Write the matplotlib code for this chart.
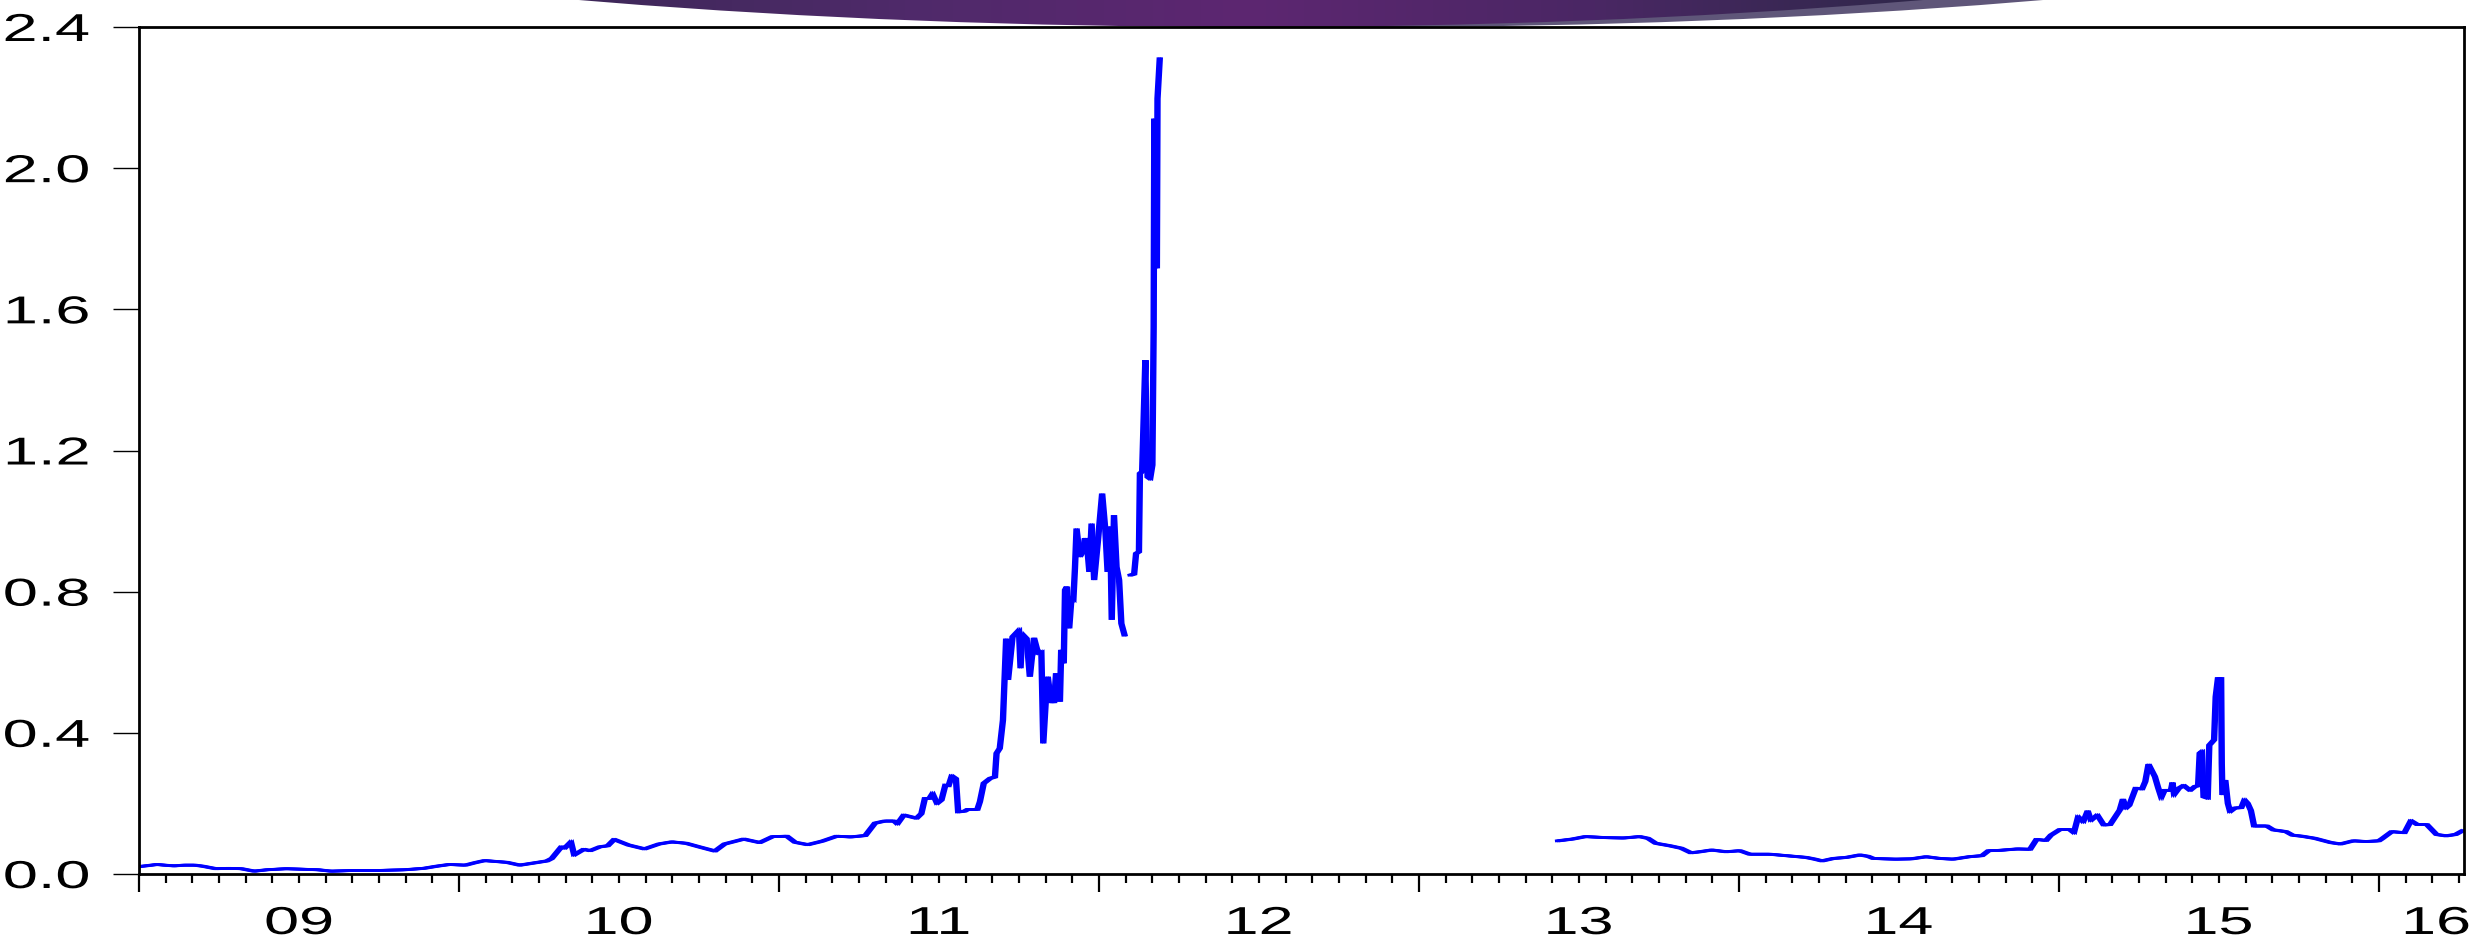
import numpy as np
import matplotlib
matplotlib.use("Agg")
import matplotlib.pyplot as plt
from matplotlib import patheffects as pe
from matplotlib.patches import Ellipse
from matplotlib.colors import LinearSegmentedColormap
from matplotlib.transforms import Affine2D
from matplotlib.ticker import FixedLocator, FormatStrFormatter, NullFormatter

# time in decimal years, NaN marks a break in the series
t = [
    2009.00, 2009.03, 2009.056, 2009.08, 2009.11, 2009.14, 2009.175, 2009.20, 2009.24, 2009.28,
    2009.32, 2009.36, 2009.40, 2009.46, 2009.525, 2009.56, 2009.60, 2009.67, 2009.75, 2009.83,
    2009.89, 2009.93, 2009.97, 2010.02, 2010.05, 2010.08, 2010.12, 2010.15, 2010.19, 2010.24,
    2010.275, 2010.29, 2010.32, 2010.33, 2010.35, 2010.36, 2010.39, 2010.41, 2010.44, 2010.465,
    2010.485, 2010.53, 2010.58, 2010.625, 2010.665, 2010.71, 2010.75, 2010.80, 2010.83, 2010.89,
    2010.94, 2010.98, 2011.025, 2011.05, 2011.09, 2011.135, 2011.18, 2011.225, 2011.27, 2011.30,
    2011.33, 2011.36, 2011.37, 2011.39, 2011.43, 2011.445, 2011.456, 2011.47, 2011.48, 2011.494,
    2011.508, 2011.52, 2011.53, 2011.54, 2011.553, 2011.56, 2011.58, 2011.59, 2011.62, 2011.628,
    2011.64, 2011.66, 2011.675, 2011.68, 2011.69, 2011.70, 2011.71, 2011.716, 2011.73, 2011.75,
    2011.755, 2011.76, 2011.774, 2011.784, 2011.797, 2011.81, 2011.82, 2011.826, 2011.834, 2011.84,
    2011.85, 2011.86, 2011.866, 2011.878, 2011.882, 2011.89, 2011.894, 2011.90, 2011.907, 2011.914,
    2011.92, 2011.925, 2011.93, 2011.94, 2011.95, 2011.956, 2011.962, 2011.97, 2011.977, 2011.985,
    2011.997, 2012.01, 2012.02, 2012.027, 2012.035, 2012.04, 2012.047, 2012.055, 2012.063, 2012.07,
    2012.08, 2012.09,
    2012.099, 2012.11, 2012.116, 2012.125, 2012.128, 2012.135, 2012.145, 2012.148, 2012.152, 2012.16,
    2012.167, 2012.171, 2012.173, 2012.175, 2012.181, 2012.183, 2012.19, 2012.8,
    2013.435, 2013.48, 2013.52, 2013.586, 2013.64, 2013.69, 2013.716, 2013.74, 2013.784, 2013.82,
    2013.85, 2013.878, 2013.915, 2013.96, 2014.003, 2014.034, 2014.097, 2014.16, 2014.21, 2014.2375,
    2014.26, 2014.295, 2014.336, 2014.378, 2014.404, 2014.42, 2014.49, 2014.54, 2014.585, 2014.628,
    2014.67, 2014.72, 2014.76, 2014.78, 2014.815, 2014.87, 2014.91, 2014.93, 2014.96, 2014.975,
    2015.003, 2015.034, 2015.047, 2015.06, 2015.076, 2015.09, 2015.10, 2015.12, 2015.14, 2015.16,
    2015.19, 2015.20, 2015.21, 2015.22, 2015.23, 2015.24, 2015.26, 2015.27, 2015.28, 2015.30,
    2015.31, 2015.32, 2015.33, 2015.35, 2015.355, 2015.36, 2015.375, 2015.39, 2015.41, 2015.425,
    2015.435, 2015.44, 2015.447, 2015.452, 2015.465, 2015.47, 2015.485, 2015.49, 2015.497, 2015.507,
    2015.509, 2015.511, 2015.52, 2015.528, 2015.535, 2015.55, 2015.57, 2015.58, 2015.59, 2015.60,
    2015.61, 2015.65, 2015.67, 2015.71, 2015.73, 2015.76, 2015.80, 2015.85, 2015.88, 2015.92,
    2015.96, 2016.00, 2016.01, 2016.04, 2016.08, 2016.10, 2016.12, 2016.15, 2016.18, 2016.21,
    2016.24, 2016.262,
]
nan = np.nan
values = [
    0.021, 0.024, 0.027, 0.025, 0.023, 0.025, 0.025, 0.022, 0.015, 0.016,
    0.015, 0.008, 0.012, 0.015, 0.013, 0.012, 0.008, 0.010, 0.010, 0.012,
    0.016, 0.022, 0.027, 0.025, 0.032, 0.038, 0.035, 0.033, 0.025, 0.032,
    0.037, 0.044, 0.077, 0.073, 0.091, 0.054, 0.070, 0.066, 0.077, 0.080,
    0.098, 0.082, 0.071, 0.085, 0.091, 0.087, 0.077, 0.065, 0.085, 0.099,
    0.089, 0.106, 0.107, 0.090, 0.083, 0.093, 0.107, 0.105, 0.109, 0.144,
    0.150, 0.150, 0.142, 0.167, 0.158, 0.171, 0.214, 0.214, 0.228, 0.200,
    0.210, 0.252, 0.250, 0.278, 0.270, 0.176, 0.178, 0.183, 0.183, 0.205,
    0.257, 0.271, 0.275, 0.342, 0.356, 0.436, 0.667, 0.550, 0.672, 0.691,
    0.583, 0.680, 0.667, 0.559, 0.669, 0.625, 0.630, 0.370, 0.493, 0.559,
    0.488, 0.488, 0.569, 0.488, 0.635, 0.597, 0.805, 0.814, 0.696, 0.781,
    0.776, 0.866, 0.979, 0.899, 0.913, 0.951, 0.940, 0.856, 0.993, 0.833,
    0.946, 1.078, 0.974, 0.856, 0.985, 0.720, 1.017, 0.870, 0.833, 0.710,
    0.677, nan,
    0.847, 0.850, 0.908, 0.913, 1.135, 1.140, 1.456, 1.277, 1.125, 1.120,
    1.159, 1.550, 2.140, 1.720, 1.720, 2.197, 2.310, nan,
    0.094, 0.099, 0.106, 0.103, 0.102, 0.106, 0.101, 0.087, 0.080, 0.073,
    0.060, 0.063, 0.068, 0.063, 0.066, 0.056, 0.056, 0.051, 0.047, 0.042,
    0.037, 0.044, 0.047, 0.054, 0.050, 0.044, 0.042, 0.043, 0.049, 0.044,
    0.042, 0.049, 0.052, 0.066, 0.067, 0.071, 0.070, 0.098, 0.095, 0.110,
    0.126, 0.126, 0.117, 0.162, 0.148, 0.179, 0.152, 0.167, 0.139, 0.140,
    0.181, 0.212, 0.187, 0.195, 0.219, 0.243, 0.241, 0.262, 0.311, 0.276,
    0.245, 0.217, 0.237, 0.237, 0.259, 0.225, 0.243, 0.251, 0.237, 0.248,
    0.250, 0.342, 0.347, 0.219, 0.215, 0.365, 0.380, 0.502, 0.554, 0.554,
    0.313, 0.224, 0.266, 0.200, 0.177, 0.187, 0.188, 0.210, 0.200, 0.180,
    0.136, 0.136, 0.125, 0.120, 0.110, 0.107, 0.101, 0.089, 0.085, 0.094,
    0.092, 0.094, 0.100, 0.120, 0.117, 0.151, 0.140, 0.140, 0.112, 0.108,
    0.112, 0.123,
]

years = list(range(2009, 2017))
year_labels = ['09', '10', '11', '12', '13', '14', '15', '16']
y_ticks = [0.0, 0.4, 0.8, 1.2, 1.6, 2.0, 2.4]
x_end = 2016.266


class Widen(pe.AbstractPathEffect):
    """Stretch glyphs horizontally about their right edge or centre."""

    def __init__(self, sx, anchor='center'):
        super().__init__()
        self.sx = sx
        self.anchor = anchor

    def draw_path(self, renderer, gc, tpath, affine, rgbFace=None):
        bb = tpath.get_extents(affine)
        x0 = bb.x1 if self.anchor == 'right' else 0.5 * (bb.x0 + bb.x1)
        stretch = Affine2D().translate(-x0, 0).scale(self.sx, 1).translate(x0, 0)
        renderer.draw_path(gc, tpath, affine + stretch, rgbFace)


plt.rcParams['font.family'] = ['Liberation Sans', 'DejaVu Sans']

W, H = 2483, 943
fig = plt.figure(figsize=(W / 100, H / 100), dpi=100)
fig.patch.set_facecolor('white')

# slide banner peeking in above the plot
deco = fig.add_axes([0, 0, 1, 1], zorder=0)
deco.set_xlim(0, W)
deco.set_ylim(H, 0)
deco.axis('off')
shadow = Ellipse((1371, -300), 2 * 1690, 2 * 327, facecolor='#5f5679', edgecolor='none', zorder=1)
deco.add_patch(shadow)
lens = Ellipse((1251, -300), 2 * 1690, 2 * 327, facecolor='none', edgecolor='none')
deco.add_patch(lens)
banner_cmap = LinearSegmentedColormap.from_list(
    'banner', [(0.0, '#3d2858'), (0.25, '#4f2a6a'), (0.5, '#5d2671'),
               (0.75, '#4a2764'), (1.0, '#2e2849')])
grad = deco.imshow(np.linspace(0, 1, 256)[None, :], cmap=banner_cmap,
                   extent=(560, 1940, 30, -10), aspect='auto', zorder=2)
grad.set_clip_path(lens)

ax = fig.add_axes([139 / W, 1 - 874 / H, 2325 / W, 847 / H], zorder=1)
ax.set_facecolor('white')

line, = ax.plot(t, values, color='#0000ff', lw=2.0, solid_joinstyle='miter')
line.set_path_effects([pe.Stroke(offset=(-1.3, 0)), pe.Stroke(offset=(1.3, 0)), pe.Normal()])

ax.set_xlim(2009.0, x_end)
ax.set_ylim(0, 2.4)

ax.yaxis.set_major_locator(FixedLocator(y_ticks))
ax.yaxis.set_major_formatter(FormatStrFormatter('%.1f'))
ax.tick_params(axis='y', direction='out', length=18.7, width=1.0, pad=17,
               labelsize=28, right=False)
for lab in ax.get_yticklabels():
    lab.set_path_effects([Widen(1.62, 'right')])

months = [y + m / 12 for y in range(2009, 2017) for m in range(1, 12) if y + m / 12 < x_end]
ax.xaxis.set_major_locator(FixedLocator(years))
ax.xaxis.set_minor_locator(FixedLocator(months))
ax.xaxis.set_major_formatter(NullFormatter())
ax.tick_params(axis='x', which='major', direction='out', length=13, width=1.6, top=False)
ax.tick_params(axis='x', which='minor', direction='out', length=6.5, width=1.6, top=False)

# year labels sit in the middle of each year
label_pos = [y + 0.5 for y in years[:-1]] + [2016.18]
for xp, lab in zip(label_pos, year_labels):
    ax.text(xp, -0.059, lab, transform=ax.get_xaxis_transform(),
            ha='center', va='center', fontsize=28,
            path_effects=[Widen(1.62)])

for s in ax.spines.values():
    s.set_linewidth(2.0)
    s.set_color('black')

fig.savefig('out.png', dpi=100, facecolor='white')
